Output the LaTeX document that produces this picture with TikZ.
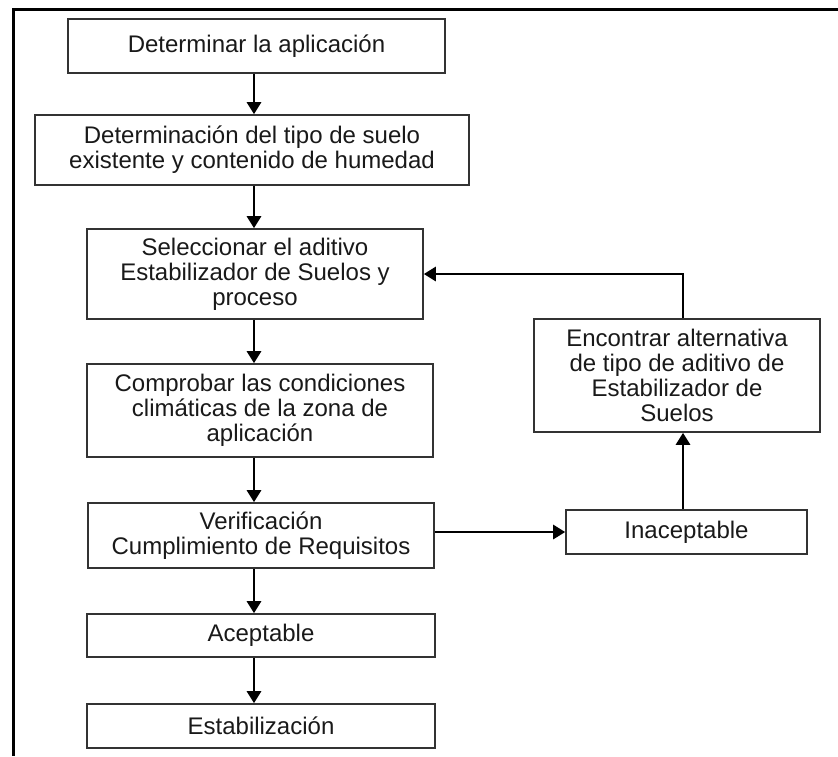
\documentclass[tikz,border=0pt]{standalone}
\usepackage{fontspec}
\setmainfont{Liberation Sans}
\usetikzlibrary{arrows.meta}

\tikzset{
  stepbox/.style={draw=black!80, line width=0.8pt, align=center, inner sep=0pt,
    text=black!90, font=\fontsize{12pt}{12.5pt}\selectfont},
  arr/.style={line width=1.4pt, -{Triangle[length=6pt,width=7pt]}},
  frame/.style={line width=1.5pt},
}

\begin{document}
\begin{tikzpicture}[x=0.5pt, y=-0.5pt]
    \useasboundingbox (0,0) rectangle (838,756);
    \def\midx{254} % x of the main column of arrows
    \def\sidex{683} % x of the arrows on the right

    % frame (top and left side only)
    \draw[frame] (838,9) -- (13,9) -- (13,756);

    % main column
    \node[stepbox, minimum width=188.5pt, minimum height=27pt] (aplic) at (256.5,46) {Determinar la aplicación};
    \node[stepbox, minimum width=217pt, minimum height=35pt] (suelo) at (252,150) {Determinación del tipo de suelo\\existente y contenido de humedad};
    \node[stepbox, minimum width=168pt, minimum height=45pt] (aditivo) at (255,274) {Seleccionar el aditivo\\Estabilizador de Suelos y\\proceso};
    \node[stepbox, minimum width=173pt, minimum height=46.5pt] (clima) at (260,410.5) {Comprobar las condiciones\\climáticas de la zona de\\aplicación};
    \node[stepbox, minimum width=173pt, minimum height=32.5pt] (verif) at (261,535.5) {Verificación\\Cumplimiento de Requisitos};
    \node[stepbox, minimum width=174pt, minimum height=21.5pt] (acept) at (261,635.5) {Aceptable};
    \node[stepbox, minimum width=174pt, minimum height=22pt] (estab) at (261,726) {Estabilización};

    % right side
    \node[stepbox, minimum width=143pt, minimum height=56.5pt] (altern) at (677,375.5) {Encontrar alternativa\\de tipo de aditivo de\\Estabilizador de\\Suelos};
    \node[stepbox, minimum width=120.5pt, minimum height=22pt] (inacept) at (686.5,532) {Inaceptable};

    \coordinate (mx) at (\midx,0);
    \coordinate (sx) at (\sidex,0);

    \foreach \a/\b in {aplic/suelo, suelo/aditivo, aditivo/clima, clima/verif, verif/acept, acept/estab} {
        \draw[arr] (\a.south -| mx) -- (\b.north -| mx);
    }

    \draw[arr] (verif.east |- inacept.west) -- (inacept.west);
    \draw[arr] (inacept.north -| sx) -- (altern.south -| sx);
    \draw[arr] (altern.north -| sx) |- (aditivo.east);

\end{tikzpicture}
\end{document}
